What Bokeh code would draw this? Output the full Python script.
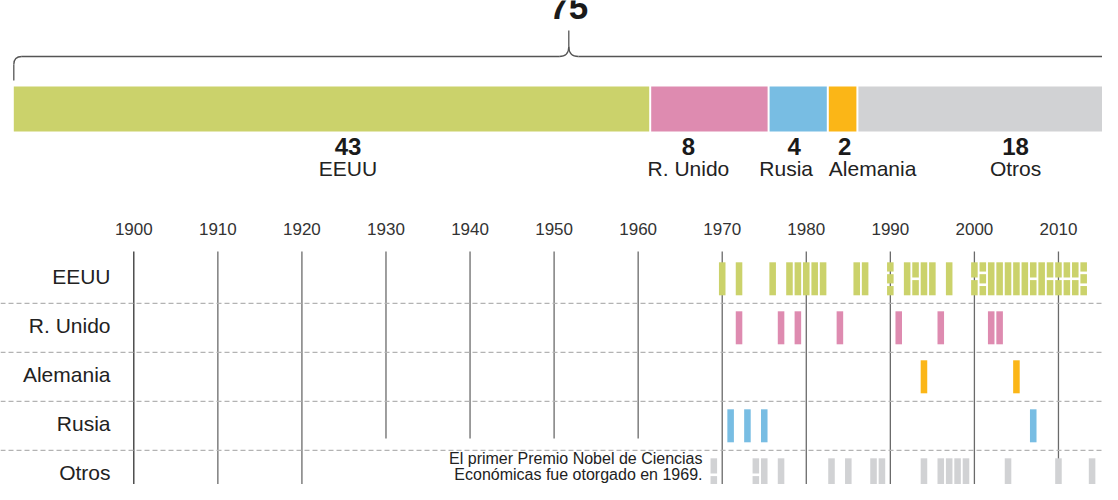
from collections import Counter
from bokeh.plotting import figure
from bokeh.models import Range1d
from bokeh.core.properties import value
from bokeh.embed import file_html
from bokeh.resources import INLINE

# ---------------- DATA ----------------
# Top stacked bar order and timeline row order
bar_order = ["EEUU", "R. Unido", "Rusia", "Alemania", "Otros"]
row_order = ["EEUU", "R. Unido", "Alemania", "Rusia", "Otros"]

# One entry per laureate (year of the prize), grouped by country
years_eeuu = [1970, 1972, 1976, 1978, 1979, 1980, 1981, 1982, 1986, 1987,
              1990, 1990, 1990, 1992, 1993, 1993, 1994, 1995, 1997,
              2000, 2000, 2001, 2001, 2001, 2002, 2003, 2004, 2005, 2006,
              2007, 2007, 2008, 2009, 2009, 2010, 2010, 2011, 2011,
              2012, 2012, 2013, 2013, 2013]
years_runido = [1972, 1977, 1979, 1984, 1991, 1996, 2002, 2003]
years_alemania = [1994, 2005]
years_rusia = [1971, 1973, 1975, 2007]
years_otros = [1969, 1969, 1974, 1974, 1975, 1977, 1983, 1985, 1988, 1989,
               1994, 1996, 1997, 1998, 1999, 2004, 2010, 2014]

decades = [1900, 1910, 1920, 1930, 1940, 1950, 1960, 1970, 1980, 1990, 2000, 2010]
decade_labels = ["1900", "1910", "1920", "1930", "1940", "1950", "1960",
                 "1970", "1980", "1990", "2000", "2010"]

colors = {"EEUU": "#cbd26b", "R. Unido": "#de8bb0", "Rusia": "#78bde3",
          "Alemania": "#fbb617", "Otros": "#d1d2d4"}

note_lines = ["El primer Premio Nobel de Ciencias",
              "Económicas fue otorgado en 1969."]

years_by_country = {"EEUU": years_eeuu, "R. Unido": years_runido,
                    "Alemania": years_alemania, "Rusia": years_rusia,
                    "Otros": years_otros}

# ---------------- LAYOUT ----------------
W, H = 1102, 484
PX_YEAR = 8.406          # pixels per year
X1900 = 133.3            # x of 1900
PX_COUNT = 14.8          # pixels per laureate in top bar
X0_COUNT = 13.3          # x of count 0

FONT = value("Liberation Sans")

p = figure(width=W, height=H,
           x_range=Range1d(1900 - X1900 / PX_YEAR, 1900 + (W - X1900) / PX_YEAR),
           y_range=Range1d(H, 0),
           x_axis_location=None, y_axis_location=None,
           output_backend="svg", toolbar_location=None, min_border=0)
p.extra_x_ranges = {"n": Range1d(-X0_COUNT / PX_COUNT, (W - X0_COUNT) / PX_COUNT)}
p.grid.visible = False
p.outline_line_color = None
p.background_fill_color = "white"
p.border_fill_color = "white"

# ---------------- TOP STACKED BAR ----------------
counts = [len(years_by_country[c]) for c in bar_order]
total = sum(counts)
lefts, rights = [], []
acc = 0
for c in counts:
    lefts.append(acc)
    acc += c
    rights.append(acc)

BAR_TOP, BAR_BOT = 86, 131
p.quad(left=lefts, right=rights, top=BAR_TOP, bottom=BAR_BOT,
       fill_color=[colors[c] for c in bar_order], line_color=None, x_range_name="n")
p.segment(x0=rights[:-1], x1=rights[:-1], y0=BAR_TOP - 1, y1=BAR_BOT + 1,
          line_color="white", line_width=2, x_range_name="n")

# labels below the bar (pixel offsets of label centre from segment centre)
num_offset_px = [16, -21, -4, 2, 25]
name_offset_px = [16, -21, -12, 30, 25]
centers = [(l + r) / 2 for l, r in zip(lefts, rights)]
p.text(x=[c + o / PX_COUNT for c, o in zip(centers, num_offset_px)], y=[146] * 5,
       text=[str(c) for c in counts], x_range_name="n",
       text_font=FONT, text_font_style="bold", text_font_size="24px",
       text_color="#1a1a1a", text_align="center", text_baseline="alphabetic")
p.text(x=[c + o / PX_COUNT for c, o in zip(centers, name_offset_px)], y=[168] * 5,
       text=bar_order, x_range_name="n",
       text_font=FONT, text_font_size="21px",
       text_color="#222222", text_align="center", text_baseline="alphabetic")

# brace over the bar
r = 8 / PX_COUNT
mid = total / 2
bc = "#555555"
p.segment(x0=[0, total, r, mid + 1.2 * r, mid], x1=[0, total, mid - 1.2 * r, total - r, mid],
          y0=[80, 80, 56, 56, 46], y1=[64, 64, 56, 56, 30],
          line_color=bc, line_width=1.3, x_range_name="n")
p.quadratic(x0=[0, total, mid - 1.2 * r, mid + 1.2 * r], y0=[64, 64, 56, 56],
            x1=[r, total - r, mid, mid], y1=[56, 56, 46, 46],
            cx=[0, total, mid, mid], cy=[56, 56, 56, 56],
            line_color=bc, line_width=1.3, x_range_name="n")
p.text(x=[mid], y=[6], text=[str(total)], x_range_name="n",
       text_font=FONT, text_font_style="bold", text_font_size="35px",
       text_color="#1a1a1a", text_align="center", text_baseline="alphabetic")

# ---------------- TIMELINE ----------------
ROW0, ROW_STEP, ROW_H = 278.3, 49.0, 33.0
row_centers = [ROW0 + i * ROW_STEP for i in range(len(row_order))]

# decade lines and labels
line_ends = [438 if 1925 < d < 1965 else H + 10 for d in decades]
p.segment(x0=decades, x1=decades, y0=[251] * len(decades), y1=line_ends,
          line_color=["#333333" if d == 1900 else "#6a6a6a" for d in decades], line_width=1.3)
p.text(x=decades, y=[228] * len(decades), text=decade_labels,
       text_font=FONT, text_font_size="17px", text_color="#333333",
       text_align="center", text_baseline="alphabetic")

# dashed row separators
x_lo, x_hi = p.x_range.start, p.x_range.end
for i in range(len(row_order) - 1):
    ysep = (row_centers[i] + row_centers[i + 1]) / 2
    p.line(x=[x_lo, x_hi], y=[ysep, ysep], line_color="#b3b3b3", line_width=1.3,
           line_dash="5 3")

# row labels
LABEL_X = 1900 - (X1900 - 110) / PX_YEAR
p.text(x=[LABEL_X] * len(row_order), y=[c - 2.5 for c in row_centers], text=row_order,
       text_font=FONT, text_font_size="21px", text_color="#222222",
       text_align="right", text_baseline="alphabetic")

# laureate bars (stacked when several laureates in same year)
GAP = 2.6
BAR_W = 0.78
for i, country in enumerate(row_order):
    cnt = Counter(years_by_country[country])
    top0 = row_centers[i] - ROW_H / 2
    L, R, T, B = [], [], [], []
    for yr, n in sorted(cnt.items()):
        seg = (ROW_H - (n - 1) * GAP) / n
        for k in range(n):
            t = top0 + k * (seg + GAP)
            L.append(yr - BAR_W / 2); R.append(yr + BAR_W / 2)
            T.append(t); B.append(t + seg)
    p.quad(left=L, right=R, top=T, bottom=B, fill_color=colors[country], line_color=None)

# note
NOTE_X = 1900 + (702 - X1900) / PX_YEAR
p.text(x=[NOTE_X, NOTE_X], y=[458, 473.5], text=note_lines,
       text_font=FONT, text_font_size="16px", text_color="#222222",
       text_align="right", text_baseline="alphabetic")

open("out.html", "w").write(file_html(p, INLINE))
